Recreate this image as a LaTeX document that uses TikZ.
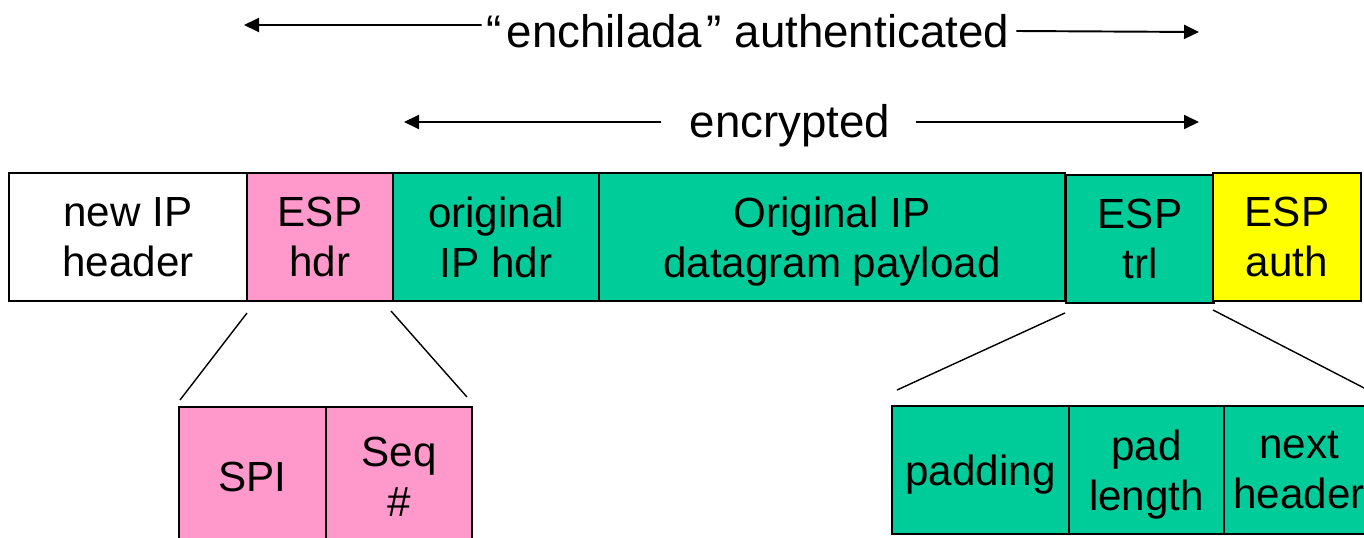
\documentclass[tikz,border=0pt]{standalone}
\usepackage{fontspec}
\setmainfont{Liberation Sans}
\usetikzlibrary{arrows.meta}

\definecolor{esppink}{HTML}{FF99CC}
\definecolor{espgreen}{HTML}{00CC99}
\definecolor{espyellow}{HTML}{FFFF00}

\newcommand{\nodepth}[1]{\raisebox{0pt}[\height][0pt]{#1}}

\tikzset{
  field/.style={draw, line width=1.1pt, anchor=north west, inner sep=0pt, outer sep=0pt,
    minimum height=2.56cm, align=center, font=\fontsize{24}{28.5}\selectfont},
  label/.style={inner sep=0pt, font=\fontsize{26}{30}\selectfont},
  span/.style={line width=1.1pt, -{Triangle[length=0.3cm, width=0.28cm]}},
  zoomline/.style={line width=0.8pt}
}

\begin{document}
\begin{tikzpicture}[x=0.02cm, y=-0.02cm]

    \clip (0,0) rectangle (1364,537);
    \useasboundingbox (0,0) rectangle (1364,537);

    % outer packet
    \node[field, fill=white, minimum width=4.76cm] (newip) at (9,173) {new IP\\header};
    \node[field, fill=esppink, minimum width=2.92cm] (esphdr) at (247,173) {ESP\\hdr};
    \node[field, fill=espgreen, minimum width=4.12cm] (orighdr) at (393,173) {original\\IP hdr};
    \node[field, fill=espgreen, minimum width=9.32cm] (payload) at (599,173) {Original IP\\\nodepth{datagram payload}};
    \node[field, fill=espgreen, minimum width=2.96cm] (esptrl) at (1066,175) {ESP\\trl};
    \node[field, fill=espyellow, minimum width=2.96cm] (espauth) at (1213,173) {ESP\\auth};

    % ESP header fields
    \node[field, fill=esppink, minimum width=2.94cm, minimum height=2.8cm] (spi) at (179,407) {SPI};
    \node[field, fill=esppink, minimum width=2.92cm, minimum height=2.8cm] (seq) at (326,407) {Seq\\\#};

    % ESP trailer fields
    \node[field, fill=espgreen, minimum width=3.54cm] (padding) at (892,406) {\nodepth{padding}};
    \node[field, fill=espgreen, minimum width=3.1cm] (padlen) at (1069,406) {pad\\\nodepth{length}};
    \node[field, fill=espgreen, minimum width=3.0cm] (nexthdr) at (1224,406) {next\\header};

    \draw[zoomline] ([yshift=-0.24cm]esphdr.south west) -- ([xshift=0.02cm, yshift=0.14cm]spi.north west);
    \draw[zoomline] ([xshift=-0.04cm, yshift=-0.2cm]esphdr.south east) -- ([xshift=-0.1cm, yshift=0.2cm]seq.north east);
    \draw[zoomline] ([xshift=-0.02cm, yshift=-0.2cm]esptrl.south west) -- ([xshift=0.1cm, yshift=0.32cm]padding.north west);
    \coordinate (trlend) at (1366,389);
    \draw[zoomline] ([yshift=-0.18cm]espauth.south west) -- (trlend);

    % spans
    \node[label] (ench) at (748,31) {\char"201C\kern0.1em enchilada\kern0.1em\char"201D{} authenticated};
    \coordinate (authL) at (244,25);
    \coordinate (authR) at (1199,32);
    \draw[span] ([xshift=-0.1cm, yshift=0.12cm]ench.west) -- (authL);
    \draw[span] ([xshift=0.14cm]ench.east) -- (authR);

    \node[label, anchor=base] (encr) at (790,137) {encrypted};
    \coordinate (encL) at (404,122);
    \coordinate (encR) at (1199,122);
    \draw[span] ([xshift=-0.56cm]encr.west |- encL) -- (encL);
    \draw[span] ([xshift=0.5cm]encr.east |- encR) -- (encR);

\end{tikzpicture}
\end{document}
